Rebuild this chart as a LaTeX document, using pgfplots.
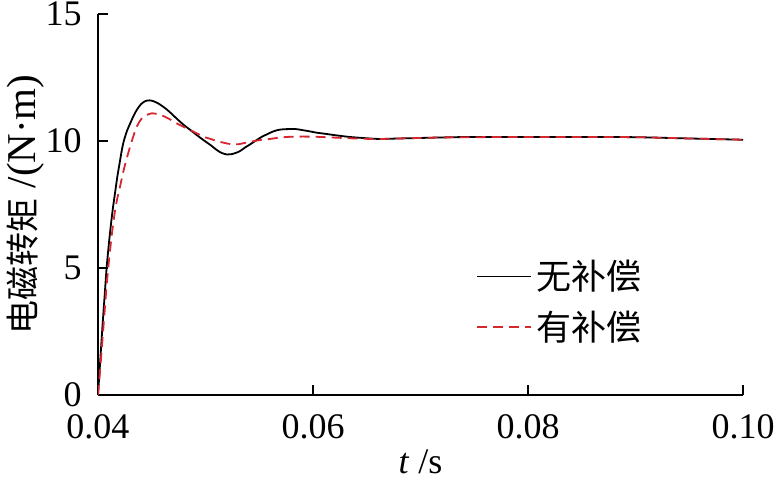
\documentclass[border=0pt]{standalone}
\usepackage{pgfplots}
\pgfplotsset{compat=1.18}
\usepackage{fontspec}
\setmainfont{Liberation Serif}
\newfontfamily\cjk{Noto Sans CJK SC}
\definecolor{cred}{RGB}{214,38,48}

\pgfplotstableread{
t v
0.0400 0
0.0402 1.3
0.0404 2.6
0.0406 3.8
0.0408 5.0
0.0410 5.9
0.0412 6.7
0.0414 7.4
0.0416 8.0
0.0418 8.6
0.0420 9.1
0.0422 9.6
0.0424 10.0
0.0427 10.4
0.0430 10.7
0.0433 10.98
0.0436 11.22
0.0440 11.45
0.0444 11.57
0.0448 11.6
0.0452 11.56
0.0456 11.48
0.0460 11.37
0.0464 11.24
0.0468 11.09
0.0473 10.89
0.0479 10.66
0.0486 10.43
0.0492 10.23
0.0498 10.04
0.0505 9.83
0.0510 9.66
0.0515 9.53
0.0520 9.47
0.0524 9.48
0.0528 9.53
0.0532 9.6
0.0537 9.75
0.0542 9.88
0.0548 10.05
0.0553 10.18
0.0557 10.26
0.0562 10.36
0.0567 10.43
0.0572 10.46
0.0578 10.47
0.0584 10.47
0.0590 10.43
0.0597 10.38
0.0603 10.33
0.0612 10.28
0.0622 10.22
0.0634 10.16
0.0646 10.12
0.0662 10.08
0.0680 10.1
0.0700 10.12
0.0720 10.14
0.0750 10.16
0.0800 10.16
0.0850 10.16
0.0900 10.15
0.0950 10.1
0.1000 10.05
}\nocomp

\pgfplotstableread{
t v
0.0400 0
0.0402 1.0
0.0404 2.1
0.0406 3.2
0.0408 4.3
0.0410 5.2
0.0412 6.0
0.0414 6.7
0.0416 7.3
0.0418 7.75
0.0420 8.1
0.0423 8.7
0.0426 9.2
0.0430 9.8
0.0433 10.2
0.0436 10.56
0.0440 10.85
0.0444 11.0
0.0450 11.09
0.0455 11.06
0.0461 10.98
0.0467 10.85
0.0473 10.7
0.0479 10.57
0.0486 10.43
0.0492 10.3
0.0498 10.17
0.0504 10.09
0.0510 10.01
0.0516 9.94
0.0523 9.88
0.0530 9.87
0.0536 9.92
0.0543 9.98
0.0551 10.04
0.0560 10.08
0.0570 10.14
0.0582 10.17
0.0600 10.17
0.0622 10.13
0.0645 10.09
0.0662 10.08
0.0680 10.1
0.0700 10.12
0.0720 10.14
0.0750 10.15
0.0800 10.16
0.0850 10.16
0.0900 10.15
0.0950 10.1
0.1000 10.05
}\withcomp

\begin{document}
\begin{tikzpicture}
\begin{axis}[
    width=322.5pt, height=190.5pt,
    scale only axis,
    axis x line=bottom, axis y line=left,
    axis line style={-, line width=0.9pt},
    tick align=inside,
    major tick length=5pt,
    every tick/.style={black, line width=0.9pt},
    xmin=0.04, xmax=0.10,
    ymin=0, ymax=15,
    xtick={0.04,0.06,0.08,0.10},
    ytick={0,5,10,15},
    scaled x ticks=false,
    /pgf/number format/assume math mode=true,
    ticklabel style={font=\fontsize{18}{20}\selectfont, inner sep=0pt},
    xticklabel style={yshift=-9.5pt, /pgf/number format/.cd, fixed, fixed zerofill, precision=2},
    yticklabel style={xshift=-8pt},
    xlabel={\textit{t} /s},
    xlabel style={font=\fontsize{18}{20}\selectfont,
        at={(axis description cs:0.5,0)}, anchor=base, yshift=-39pt},
    ylabel={{\cjk\fontsize{17}{20}\selectfont 电磁转矩} /(N·m)},
    ylabel style={font=\fontsize{20.5}{22}\selectfont,
        at={(axis description cs:-0.112,0.5)}, anchor=center},
    legend style={draw=none, fill=none, at={(0.586,0.365)}, anchor=north west,
        inner sep=0pt, row sep=5pt,
        font=\cjk\fontsize{17.5}{19}\selectfont},
    legend cell align=left,
    legend image code/.code={\draw[#1] (0pt,0pt) -- (27pt,0pt);},
]
\addplot[black, line width=0.9pt, smooth] table[x=t, y=v] {\nocomp};
\addlegendentry{无补偿}
\addplot[cred, line width=0.9pt, smooth, dash pattern=on 5pt off 3pt] table[x=t, y=v] {\withcomp};
\addlegendentry{有补偿}
\coordinate (bl) at (rel axis cs:0,0);
\coordinate (tr) at (rel axis cs:1,1);
\end{axis}
\pgfresetboundingbox
\path ([shift={(-49pt,-46.5pt)}]bl) rectangle ([shift={(18pt,7pt)}]tr);
\end{tikzpicture}
\end{document}
